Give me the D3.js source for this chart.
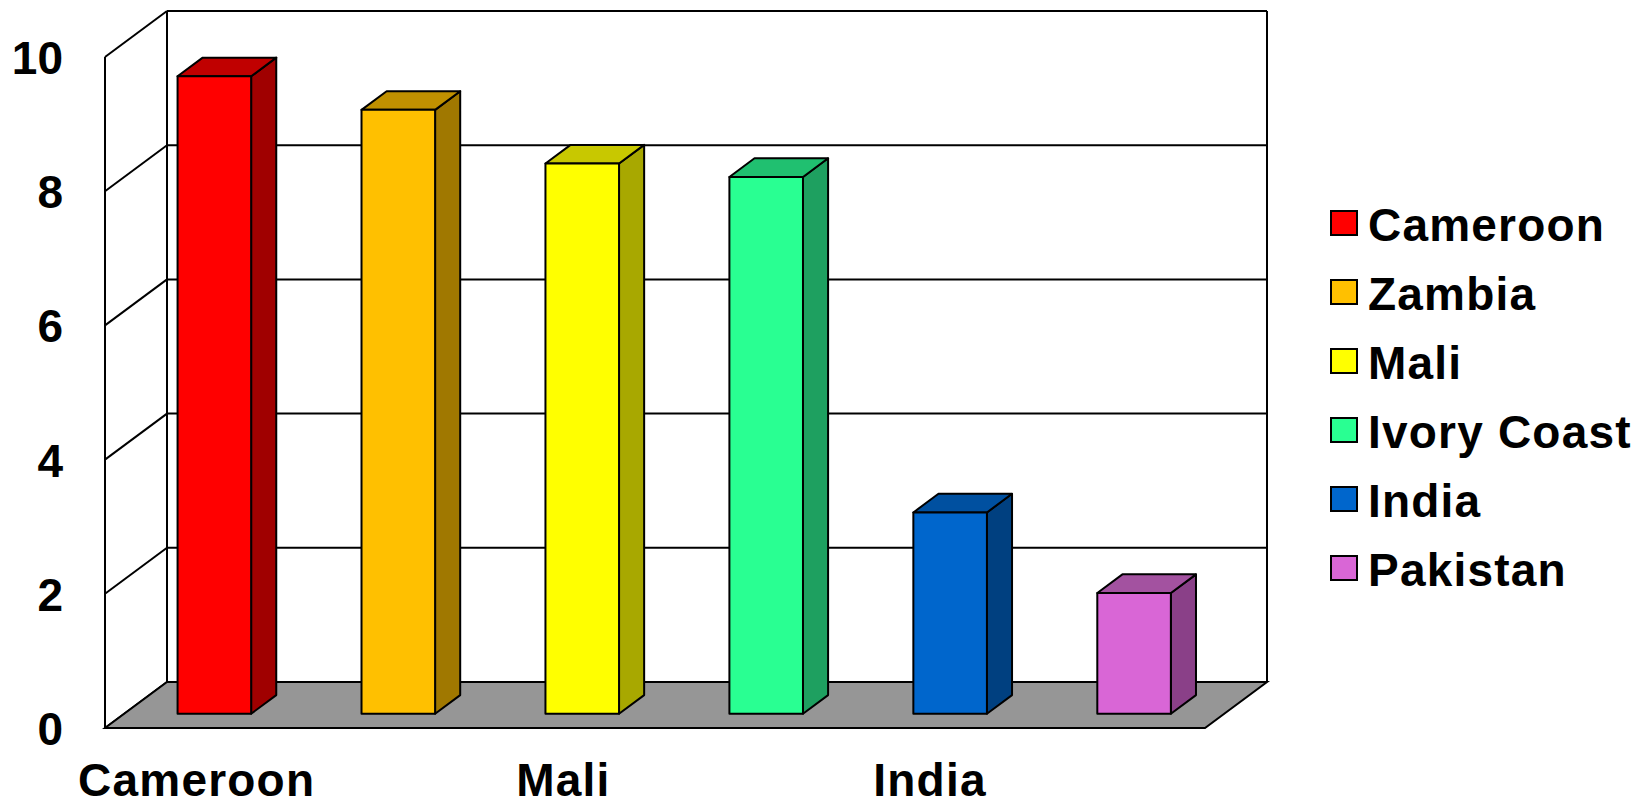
<!DOCTYPE html>
<html>
<head>
<meta charset="utf-8">
<script src="https://cdnjs.cloudflare.com/ajax/libs/d3/7.8.5/d3.min.js"></script>
<style>
    body { margin: 0; background: #fff; }
    .tick-label, .cat-label, .legend-label {
        font-family: "Liberation Sans", Arial, sans-serif;
        font-weight: bold;
        font-size: 46px;
        fill: #000;
    }
    .cat-label, .legend-label { letter-spacing: 1.2px; }
</style>
</head>
<body>
<div id="chart" style="width:1637px;height:806px;"></div>
<script>
// chart data
const countries = ["Cameroon", "Zambia", "Mali", "Ivory Coast", "India", "Pakistan"];
const values = [9.5, 9.0, 8.2, 8.0, 3.0, 1.8];
const yTicks = [0, 2, 4, 6, 8, 10];
const frontColors = ["#ff0000", "#ffc000", "#ffff00", "#29ff92", "#0066cc", "#d966d6"];
const topColors = ["#c00000", "#c09000", "#c8c800", "#20c070", "#0050a0", "#a352a0"];
const sideColors = ["#a00000", "#a07800", "#a8a800", "#1ea060", "#004080", "#8a4088"];

class Bar3DVis {

    constructor(parentElement) {
        this.parentElement = parentElement;
        this.initVis();
    }

    initVis() {
        let vis = this;

        // front-left-bottom corner of the box and its depth vector
        vis.origin = {x: 105, y: 728};
        vis.plotWidth = 1100;
        vis.plotHeight = 671;
        vis.depth = {dx: 62, dy: 46};
        vis.barFront = 0.31;
        vis.barBack = 0.715;

        vis.svg = d3.select("#" + vis.parentElement).append("svg")
            .attr("width", 1637)
            .attr("height", 806);

        vis.x = d3.scaleBand()
            .domain(countries)
            .range([0, vis.plotWidth])
            .paddingInner(0.6)
            .paddingOuter(0.29);

        vis.xLabel = d3.scaleBand()
            .domain(countries)
            .range([0, vis.plotWidth]);

        vis.y = d3.scaleLinear()
            .domain([0, 10])
            .range([vis.origin.y, vis.origin.y - vis.plotHeight]);

        vis.updateVis();
    }

    // project a point: px along x, value v, depth d (0 front, 1 back)
    pt(px, v, d) {
        let vis = this;
        return [vis.origin.x + px + vis.depth.dx * d, vis.y(v) - vis.depth.dy * d];
    }

    updateVis() {
        let vis = this;
        let line = d3.line();

        let walls = vis.svg.append("g")
            .attr("fill", "none")
            .attr("stroke", "#000")
            .attr("stroke-width", 2);

        // back wall gridlines + left wall diagonals
        yTicks.forEach(t => {
            if (t > 0) {
                walls.append("path")
                    .attr("d", line([vis.pt(0, t, 1), vis.pt(vis.plotWidth, t, 1)]));
            }
            walls.append("path")
                .attr("d", line([vis.pt(0, t, 0), vis.pt(0, t, 1)]));
        });

        walls.append("path").attr("d", line([vis.pt(0, 0, 0), vis.pt(0, 10, 0)]));
        walls.append("path").attr("d", line([vis.pt(0, 0, 1), vis.pt(0, 10, 1)]));
        walls.append("path").attr("d", line([vis.pt(vis.plotWidth, 0, 1), vis.pt(vis.plotWidth, 10, 1)]));

        // floor
        vis.svg.append("path")
            .attr("d", line([vis.pt(0, 0, 0), vis.pt(0, 0, 1), vis.pt(vis.plotWidth, 0, 1), vis.pt(vis.plotWidth, 0, 0)]) + "Z")
            .attr("fill", "#969696")
            .attr("stroke", "#000")
            .attr("stroke-width", 2);

        // bars
        let bars = vis.svg.selectAll(".bar")
            .data(countries)
            .enter()
            .append("g")
            .attr("class", "bar")
            .attr("stroke", "#000")
            .attr("stroke-width", 2)
            .attr("stroke-linejoin", "round");

        let f = vis.barFront, b = vis.barBack, w = vis.x.bandwidth();

        bars.append("path")
            .attr("fill", (d, i) => sideColors[i])
            .attr("d", (d, i) => line([
                vis.pt(vis.x(d) + w, 0, f), vis.pt(vis.x(d) + w, values[i], f),
                vis.pt(vis.x(d) + w, values[i], b), vis.pt(vis.x(d) + w, 0, b)]) + "Z");

        bars.append("path")
            .attr("fill", (d, i) => topColors[i])
            .attr("d", (d, i) => line([
                vis.pt(vis.x(d), values[i], f), vis.pt(vis.x(d) + w, values[i], f),
                vis.pt(vis.x(d) + w, values[i], b), vis.pt(vis.x(d), values[i], b)]) + "Z");

        bars.append("path")
            .attr("fill", (d, i) => frontColors[i])
            .attr("d", (d, i) => line([
                vis.pt(vis.x(d), 0, f), vis.pt(vis.x(d), values[i], f),
                vis.pt(vis.x(d) + w, values[i], f), vis.pt(vis.x(d) + w, 0, f)]) + "Z");

        // y tick labels
        vis.svg.selectAll(".tick-label")
            .data(yTicks)
            .enter()
            .append("text")
            .attr("class", "tick-label")
            .attr("text-anchor", "end")
            .attr("x", 63)
            .attr("y", d => vis.y(d) + 17)
            .text(d => d);

        // category labels (every other one fits)
        vis.svg.selectAll(".cat-label")
            .data(countries.filter((d, i) => i % 2 === 0))
            .enter()
            .append("text")
            .attr("class", "cat-label")
            .attr("text-anchor", "middle")
            .attr("x", d => vis.origin.x + vis.xLabel(d) + vis.xLabel.bandwidth() / 2)
            .attr("y", 796)
            .text(d => d);

        // legend
        let legend = vis.svg.selectAll(".legend")
            .data(countries)
            .enter()
            .append("g")
            .attr("class", "legend")
            .attr("transform", (d, i) => `translate(1331, ${223 + i * 69})`);

        legend.append("rect")
            .attr("x", 0)
            .attr("y", -12)
            .attr("width", 26)
            .attr("height", 24)
            .attr("fill", (d, i) => frontColors[i])
            .attr("stroke", "#000")
            .attr("stroke-width", 2);

        legend.append("text")
            .attr("class", "legend-label")
            .attr("x", 37)
            .attr("y", 18)
            .text(d => d);
    }
}

new Bar3DVis("chart");
</script>
</body>
</html>
